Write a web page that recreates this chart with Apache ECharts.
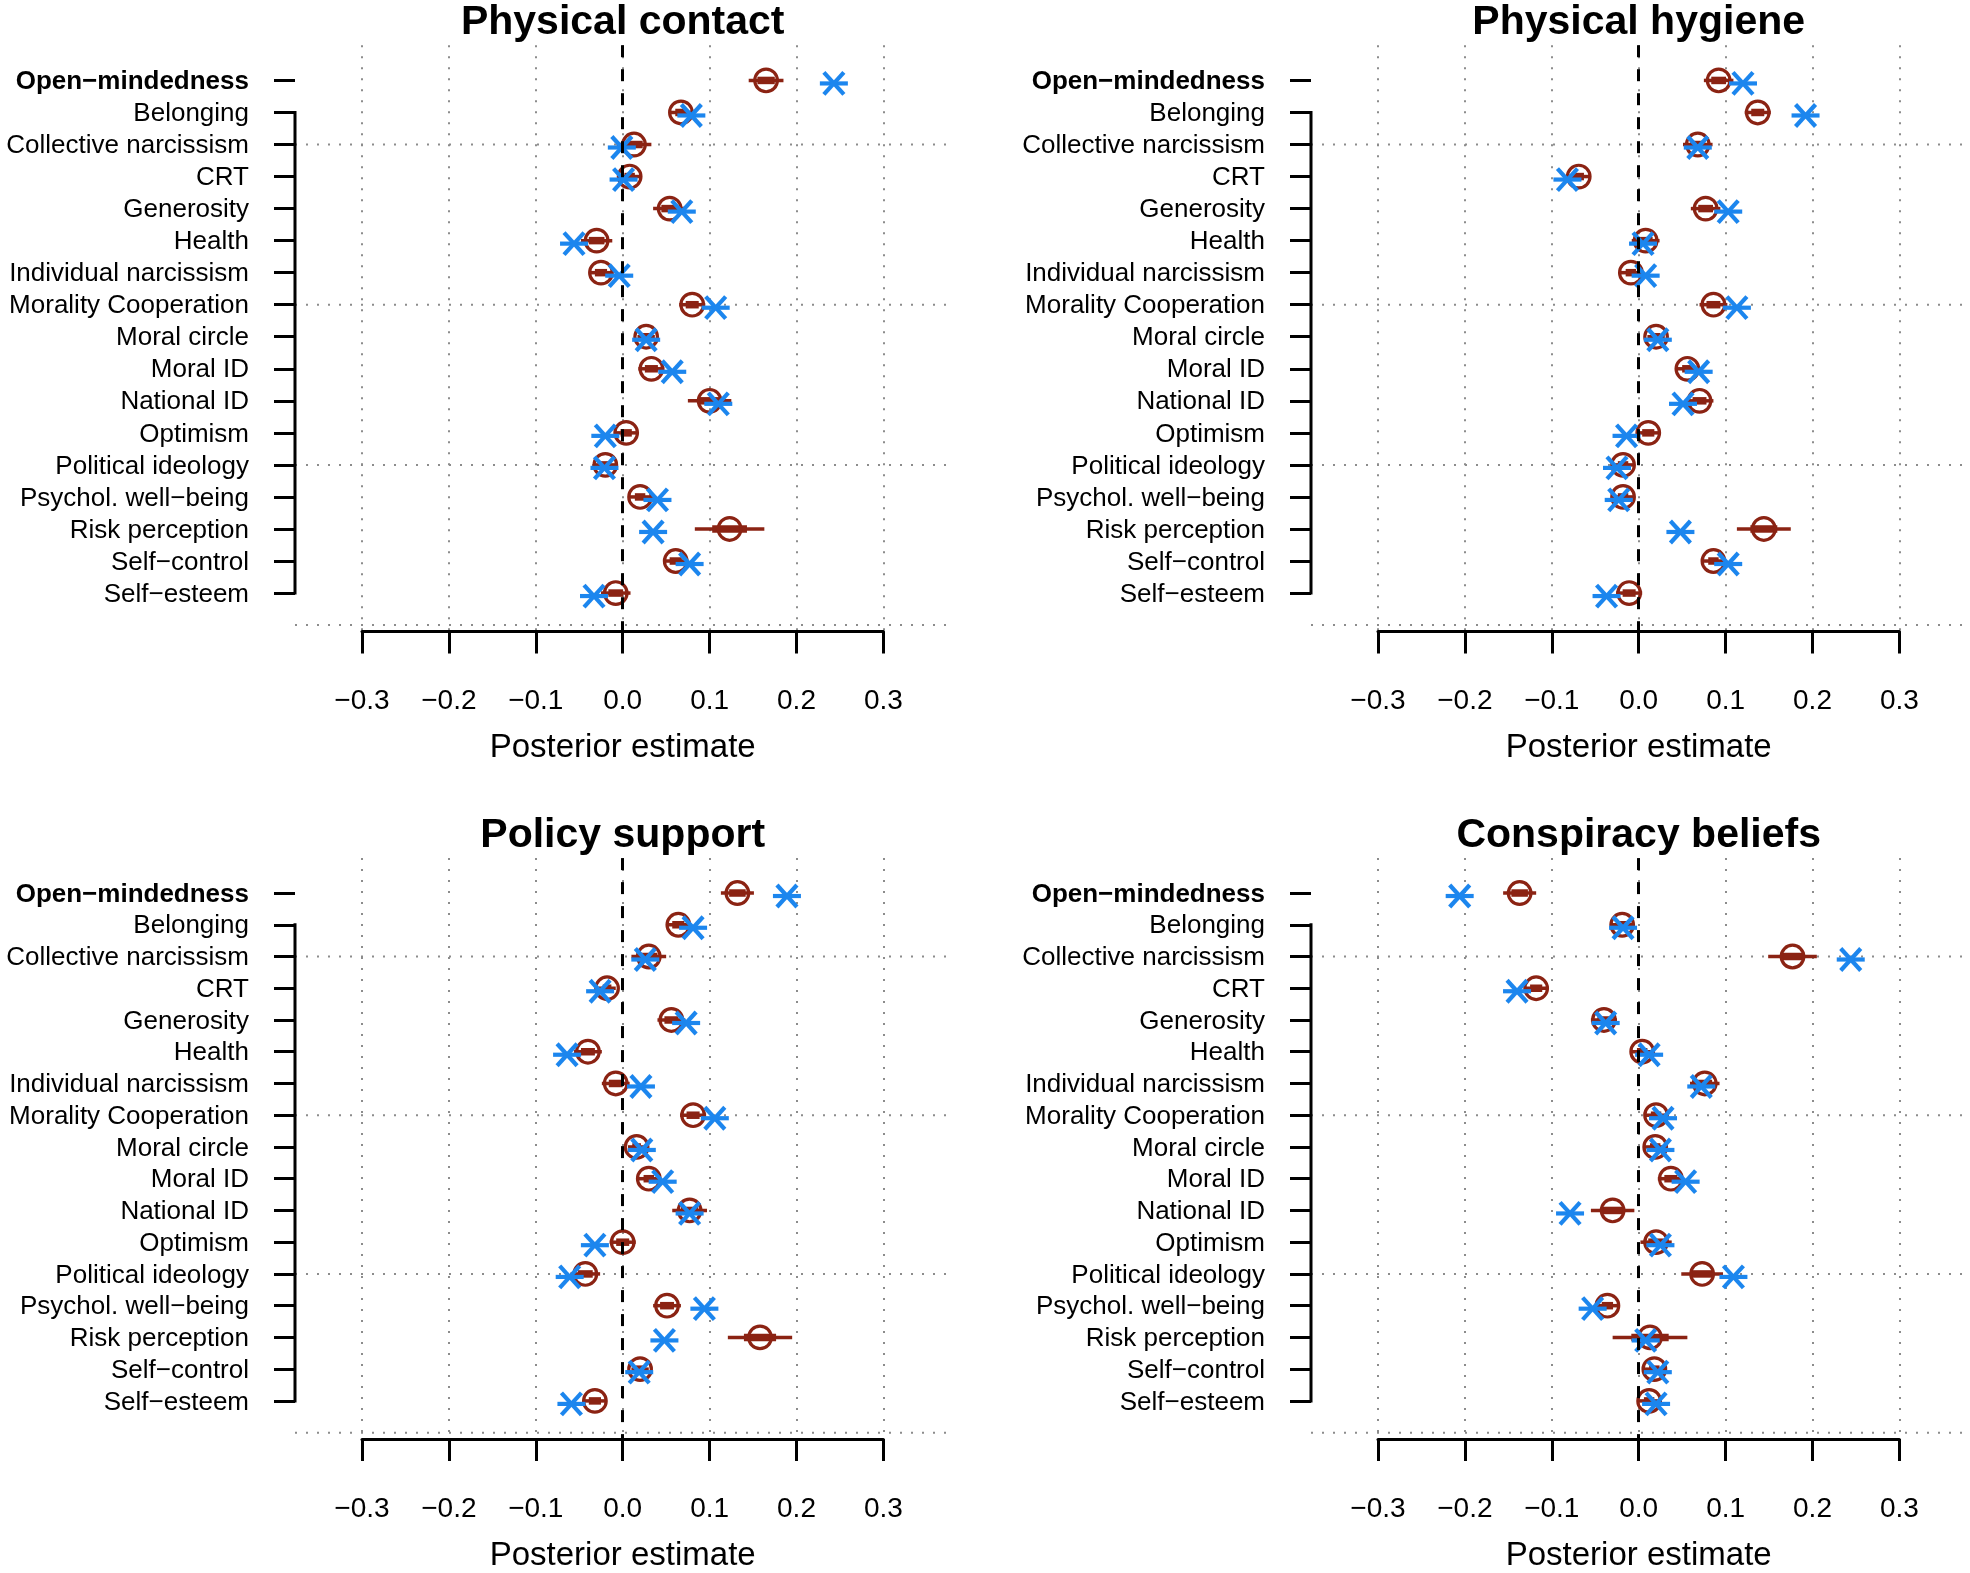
<!DOCTYPE html>
<html>
<head>
<meta charset="utf-8">
<script src="https://cdn.jsdelivr.net/npm/echarts@6/dist/echarts.min.js"></script>
<style>
  html, body { margin: 0; padding: 0; background: #fff; }
  #main { width: 1970px; height: 1573px; }
</style>
</head>
<body>
<div id="main"></div>
<script>
// predictors, top to bottom
var categories = ['Open−mindedness', 'Belonging', 'Collective narcissism', 'CRT', 'Generosity', 'Health',
    'Individual narcissism', 'Morality Cooperation', 'Moral circle', 'Moral ID', 'National ID', 'Optimism',
    'Political ideology', 'Psychol. well−being', 'Risk perception', 'Self−control', 'Self−esteem'];
var panelTitles = ['Physical contact', 'Physical hygiene', 'Policy support', 'Conspiracy beliefs'];
var separatorRows = [2, 7, 12, 17];

// brown circles (estimate), blue stars (second estimate), half width of the brown interval
var contactEst = [0.165, 0.067, 0.013, 0.008, 0.054, -0.030, -0.025, 0.080, 0.027, 0.033, 0.100, 0.004, -0.020, 0.020, 0.123, 0.061, -0.008];
var contactAlt = [0.243, 0.079, -0.001, 0.001, 0.068, -0.056, -0.004, 0.107, 0.027, 0.057, 0.110, -0.020, -0.021, 0.040, 0.035, 0.077, -0.033];
var contactCI = [0.020, 0.013, 0.020, 0.012, 0.019, 0.018, 0.014, 0.015, 0.010, 0.015, 0.025, 0.013, 0.012, 0.012, 0.040, 0.014, 0.017];

var hygieneEst = [0.092, 0.137, 0.068, -0.069, 0.077, 0.008, -0.009, 0.086, 0.020, 0.056, 0.070, 0.011, -0.018, -0.018, 0.144, 0.086, -0.011];
var hygieneAlt = [0.120, 0.192, 0.068, -0.082, 0.103, 0.005, 0.008, 0.113, 0.022, 0.069, 0.051, -0.014, -0.025, -0.023, 0.048, 0.103, -0.037];
var hygieneCI = [0.017, 0.015, 0.017, 0.012, 0.017, 0.016, 0.012, 0.016, 0.010, 0.012, 0.016, 0.014, 0.012, 0.012, 0.031, 0.012, 0.015];

var policyEst = [0.132, 0.064, 0.030, -0.018, 0.056, -0.040, -0.008, 0.081, 0.016, 0.030, 0.077, 0.000, -0.043, 0.051, 0.158, 0.020, -0.032];
var policyAlt = [0.189, 0.081, 0.026, -0.026, 0.073, -0.064, 0.021, 0.106, 0.022, 0.046, 0.077, -0.032, -0.061, 0.094, 0.048, 0.019, -0.059];
var policyCI = [0.019, 0.014, 0.020, 0.010, 0.016, 0.016, 0.016, 0.015, 0.010, 0.012, 0.020, 0.015, 0.017, 0.016, 0.037, 0.010, 0.014];

var conspEst = [-0.137, -0.019, 0.177, -0.118, -0.040, 0.004, 0.076, 0.020, 0.019, 0.037, -0.030, 0.020, 0.073, -0.036, 0.013, 0.018, 0.012];
var conspAlt = [-0.206, -0.018, 0.244, -0.140, -0.038, 0.012, 0.072, 0.028, 0.025, 0.054, -0.079, 0.025, 0.109, -0.053, 0.008, 0.022, 0.020];
var conspCI = [0.019, 0.012, 0.028, 0.014, 0.015, 0.012, 0.017, 0.012, 0.012, 0.015, 0.025, 0.018, 0.024, 0.013, 0.043, 0.012, 0.012];

var panelEst = [contactEst, hygieneEst, policyEst, conspEst];
var panelAlt = [contactAlt, hygieneAlt, policyAlt, conspAlt];
var panelCI = [contactCI, hygieneCI, policyCI, conspCI];

var BROWN = '#8B2313';
var BLUE = '#1C86EE';
var FONT = '"Liberation Sans", Arial, sans-serif';

// layout of the four panels (pixels)
var gridBoxes = [
    { left: 362, top: 45.2 },
    { left: 1378, top: 45.2 },
    { left: 362, top: 858.1 },
    { left: 1378, top: 858.1 }
];
var GRID_W = 521.4, GRID_H = 586.3;
var SIDE_EXT = 67; // plot region extends past the -0.3 / 0.3 ticks

var chart = echarts.init(document.getElementById('main'));

var rowValues = categories.map(function (c, i) { return i; });

function renderEst(params, api) {
    var i = api.value(0), est = api.value(1), half = api.value(2);
    var c = api.coord([est, i]);
    var lo = api.coord([est - half, i]), hi = api.coord([est + half, i]);
    var inLo = api.coord([est - half / 2, i]), inHi = api.coord([est + half / 2, i]);
    return {
        type: 'group',
        children: [
            { type: 'line', shape: { x1: lo[0], y1: c[1], x2: hi[0], y2: c[1] }, style: { stroke: BROWN, lineWidth: 3.5 } },
            { type: 'line', shape: { x1: inLo[0], y1: c[1], x2: inHi[0], y2: c[1] }, style: { stroke: BROWN, lineWidth: 7.5 } },
            { type: 'circle', shape: { cx: c[0], cy: c[1], r: 11.3 }, style: { fill: 'none', stroke: BROWN, lineWidth: 3.2 } }
        ]
    };
}

function renderStar(params, api) {
    var c = api.coord([api.value(1), api.value(0)]);
    var x = c[0], y = c[1] + 3;
    var st = { stroke: BLUE, lineWidth: 4.2, lineCap: 'butt' };
    return {
        type: 'group',
        children: [
            { type: 'line', shape: { x1: x - 14, y1: y, x2: x + 14, y2: y }, style: st },
            { type: 'line', shape: { x1: x - 10, y1: y - 11, x2: x + 10, y2: y + 11 }, style: st },
            { type: 'line', shape: { x1: x - 10, y1: y + 11, x2: x + 10, y2: y - 11 }, style: st }
        ]
    };
}

function renderSeparator(params, api) {
    var y = api.value(0);
    var a = api.coord([-0.3, y]), b = api.coord([0.3, y]);
    return {
        type: 'line',
        shape: { x1: a[0] - SIDE_EXT, y1: a[1], x2: b[0] + SIDE_EXT, y2: b[1] },
        style: { stroke: '#8c8c8c', lineWidth: 2, lineDash: [2, 9] }
    };
}

function renderBracket(params, api) {
    var a = api.coord([-0.3, api.value(0)]), b = api.coord([-0.3, api.value(1)]);
    return {
        type: 'line',
        shape: { x1: a[0] - SIDE_EXT, y1: a[1] - 1.5, x2: b[0] - SIDE_EXT, y2: b[1] + 1.5 },
        style: { stroke: '#000', lineWidth: 3 }
    };
}

var grids = [], xAxes = [], yAxes = [], titles = [], series = [];

for (var p = 0; p < 4; p++) {
    var box = gridBoxes[p];
    grids.push({ left: box.left, top: box.top, width: GRID_W, height: GRID_H });

    titles.push({
        text: panelTitles[p],
        left: box.left + GRID_W / 2,
        top: box.top - 43,
        textAlign: 'center',
        padding: 0,
        textStyle: { fontFamily: FONT, fontSize: 41, fontWeight: 'bold', color: '#000' }
    });

    xAxes.push({
        gridIndex: p,
        type: 'value',
        min: -0.3,
        max: 0.3,
        interval: 0.1,
        name: 'Posterior estimate',
        nameLocation: 'middle',
        nameGap: 100,
        nameTextStyle: { fontFamily: FONT, fontSize: 33, color: '#000' },
        axisLine: { show: true, onZero: false, lineStyle: { color: '#000', width: 3 } },
        axisTick: { show: true, length: 22, lineStyle: { color: '#000', width: 3 } },
        axisLabel: {
            margin: 56,
            fontFamily: FONT,
            fontSize: 28,
            color: '#000',
            formatter: function (v) {
                if (Math.abs(v) < 1e-9) return '0.0';
                return v.toFixed(1).replace('-', '−');
            }
        },
        splitLine: { show: true, lineStyle: { color: '#8c8c8c', width: 2, type: [2, 9] } }
    });

    yAxes.push({
        gridIndex: p,
        type: 'value',
        inverse: true,
        min: -1.1,
        max: 17.2,
        offset: SIDE_EXT,
        axisLine: { show: false, onZero: false },
        axisTick: { show: true, length: 21, customValues: rowValues, lineStyle: { color: '#000', width: 3 } },
        axisLabel: {
            margin: 46,
            customValues: rowValues,
            fontFamily: FONT,
            fontSize: 26,
            color: '#000',
            padding: [3, 0, 0, 0],
            formatter: function (v) {
                var name = categories[Math.round(v)];
                return Math.round(v) === 0 ? '{b|' + name + '}' : name;
            },
            rich: { b: { fontFamily: FONT, fontSize: 26, fontWeight: 'bold', color: '#000' } }
        },
        splitLine: { show: false }
    });

    var est = panelEst[p], alt = panelAlt[p], ci = panelCI[p];
    var estData = est.map(function (v, i) { return [i, v, ci[i]]; });
    var altData = alt.map(function (v, i) { return [i, v]; });

    series.push({
        type: 'custom',
        xAxisIndex: p,
        yAxisIndex: p,
        renderItem: renderSeparator,
        data: separatorRows.map(function (r) { return [r]; }),
        encode: { y: 0 },
        silent: true,
        clip: false,
        z: 1
    });
    series.push({
        type: 'custom',
        xAxisIndex: p,
        yAxisIndex: p,
        renderItem: renderBracket,
        data: [[1, 16]],
        encode: { y: [0, 1] },
        silent: true,
        clip: false,
        z: 1
    });
    series.push({
        type: 'custom',
        xAxisIndex: p,
        yAxisIndex: p,
        renderItem: renderEst,
        data: estData,
        encode: { x: 1, y: 0 },
        clip: false,
        z: 3,
        markLine: {
            silent: true,
            symbol: 'none',
            label: { show: false },
            lineStyle: { color: '#000', width: 3, type: [12, 12] },
            data: [{ xAxis: 0 }]
        }
    });
    series.push({
        type: 'custom',
        xAxisIndex: p,
        yAxisIndex: p,
        renderItem: renderStar,
        data: altData,
        encode: { x: 1, y: 0 },
        clip: false,
        z: 4
    });
}

var option = {
    backgroundColor: '#fff',
    animation: false,
    title: titles,
    grid: grids,
    xAxis: xAxes,
    yAxis: yAxes,
    series: series
};

chart.setOption(option);
</script>
</body>
</html>
